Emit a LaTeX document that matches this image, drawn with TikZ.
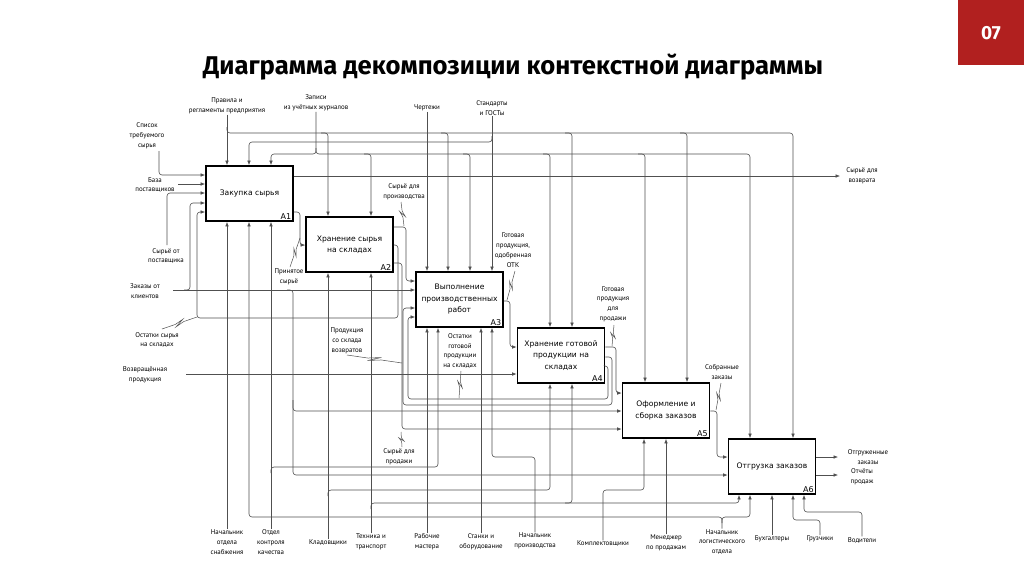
\documentclass[tikz,border=0pt]{standalone}
\usepackage{fontspec}
\setmainfont{PT Sans}
\newfontfamily\boxfnt{DejaVu Sans}
\newfontfamily\labfnt{PT Sans}
\newfontfamily\titlefnt{Fira Sans}
\usetikzlibrary{arrows.meta,calc}
\definecolor{brandred}{RGB}{177,32,31}
\definecolor{lncol}{RGB}{80,80,80}
\newcommand{\zzline}[2]{\draw[lncol,line width=0.5pt] (#1) -- ($(#1)!0.38!(#2)$) -- ($(#1)!0.62!(#2)!2.5pt!90:(#2)$) -- ($(#1)!0.38!(#2)!2.5pt!-90:(#2)$) -- ($(#1)!0.62!(#2)$) -- (#2);}
\tikzset{
  ln/.style={draw=lncol, line width=0.6pt, rounded corners=3pt},
  arr/.style={ln, -{Latex[length=4.5pt,width=3.6pt]}},
  fbox/.style={draw=black, line width=1.7pt, minimum width=87pt, minimum height=55pt, inner sep=1pt, align=center, fill=white, font=\boxfnt\fontsize{7.6}{11.5}\selectfont},
  lab/.style={font=\labfnt\fontsize{6.9}{9.8}\selectfont, align=center, inner sep=0.5pt, text=black},
  tag/.style={font=\boxfnt\fontsize{8}{9}\selectfont, inner sep=1.5pt, anchor=south east},
}
\begin{document}
\begin{tikzpicture}[x=1pt,y=-1pt]
\fill[white] (0,0) rectangle (1024,574);
\useasboundingbox (0,0) rectangle (1024,574);

% header
\node[fill=brandred, minimum width=66pt, minimum height=65pt, anchor=north east, inner sep=0] (badge) at (1024,0) {};
\node[text=white, font=\titlefnt\bfseries\fontsize{19}{20}\selectfont] (num) at (badge.center) {07};
\node[anchor=base west, inner sep=0] (title) at (203,74) {\resizebox{620pt}{!}{\titlefnt\bfseries\fontsize{21}{24}\selectfont Диаграмма декомпозиции контекстной диаграммы}};

% boxes
\node[fbox] (A1) at (249.5,193.5) {Закупка сырья};
\node[fbox] (A2) at (349.5,244.5) {Хранение сырья\\на складах};
\node[fbox] (A3) at (459.5,299.5) {Выполнение\\производственных\\работ};
\node[fbox] (A4) at (561,355.5) {Хранение готовой\\продукции на\\складах};
\node[fbox] (A5) at (666,410.5) {Оформление и\\сборка заказов};
\node[fbox] (A6) at (772,466.5) {Отгрузка заказов};
\foreach \b in {A1,A2,A3,A4,A5,A6}{
  \node[tag] (t\b) at ($(\b.south east)+(-1,-1)$) {\b};
}

% labels
\node[lab] (lPrav) at (227,106) {Правила и\\регламенты предприятия};
\node[lab] (lZap) at (316,103) {Записи\\из учётных журналов};
\node[lab] (lCher) at (427,108) {Чертежи};
\node[lab] (lStd) at (492,108) {Стандарты\\и ГОСТы};

\node[lab] (lSpis) at (147,136) {Список\\требуемого\\сырья};
\node[lab] (lBaza) at (155,185) {База\\поставщиков};
\node[lab] (lSyrPost) at (166,256) {Сырьё от\\поставщика};
\node[lab] (lZak) at (145,291) {Заказы от\\клиентов};
\node[lab] (lOst) at (157,340) {Остатки сырья\\на складах};
\node[lab] (lVozv) at (145,375) {Возвращённая\\продукция};

\node[lab] (lVozvrat) at (862,176) {Сырьё для\\возврата};
\node[lab] (lOtgr) at (868,457) {Отгруженные\\заказы};
\node[lab] (lOtch) at (862,477) {Отчёты\\продаж};

\node[lab] (lSPr) at (404,192) {Сырьё для\\производства};
\node[lab] (lPrin) at (289,277) {Принятое\\сырьё};
\node[lab] (lOTK) at (513,250) {Готовая\\продукция,\\одобренная\\ОТК};
\node[lab] (lOstG) at (460,351) {Остатки\\готовой\\продукции\\на складах};
\node[lab] (lProdV) at (347,341) {Продукция\\со склада\\возвратов};
\node[lab] (lGPP) at (613,304) {Готовая\\продукция\\для\\продажи};
\node[lab] (lSobr) at (722,372) {Собранные\\заказы};
\node[lab] (lSPd) at (399,457) {Сырьё для\\продажи};

\node[lab] (m1) at (227,542) {Начальник\\отдела\\снабжения};
\node[lab] (m2) at (271,542) {Отдел\\контроля\\качества};
\node[lab] (m3) at (328,543) {Кладовщики};
\node[lab] (m4) at (371,542) {Техника и\\транспорт};
\node[lab] (m5) at (427,542) {Рабочие\\мастера};
\node[lab] (m6) at (481,542) {Станки и\\оборудование};
\node[lab] (m7) at (535,541) {Начальник\\производства};
\node[lab] (m8) at (603,544) {Комплектовщики};
\node[lab] (m9) at (666,543) {Менеджер\\по продажам};
\node[lab] (m10) at (722,542) {Начальник\\логистического\\отдела};
\node[lab] (m11) at (772,539) {Бухгалтеры};
\node[lab] (m12) at (820,539) {Грузчики};
\node[lab] (m13) at (862,540) {Водители};

% ---- controls (top)
\draw[arr] (lPrav.south) -- (lPrav.south |- A1.north);
\draw[arr] (227,127) |- (793,133) -- (793,0 |- A6.north);
\draw[arr] (321,133) -| (328,0 |- A2.north);
\draw[arr] (441,133) -| (448,0 |- A3.north);
\draw[arr] (565,133) -| (572,0 |- A4.north);
\draw[arr] (680,133) -| (687,0 |- A5.north);

\draw[arr] (lZap.south) |- (271,154) -- (271,0 |- A1.north);
\draw[arr] (316,148) |- (750,154) -- (750,0 |- A6.north);
\draw[arr] (364,154) -| (371,0 |- A2.north);
\draw[arr] (463,154) -| (470,0 |- A3.north);
\draw[arr] (543,154) -| (550,0 |- A4.north);
\draw[arr] (638,154) -| (645,0 |- A5.north);

\draw[arr] (lStd.south) -- (lStd.south |- A3.north);
\draw[arr] (492,136) |- (249,142) -- (249,0 |- A1.north);
\draw[arr] (lCher.south) -- (lCher.south |- A3.north);

% ---- inputs (left)
\draw[arr] (159,151) |- (A1.west |- 0,175);
\draw[arr] (178,184) -- (A1.west |- 0,184);
\draw[arr] (167,245) |- (A1.west |- 0,193);
\draw[arr] (173,290) -- (A3.west |- 0,290);
\draw[arr] (184,290) -| (190,250) |- (A1.west |- 0,203);
\draw[arr] (287,290) -| (293,350) |- (A5.west |- 0,411);
\draw[arr] (293,400) |- (A6.west |- 0,475);
\draw[arr] (186,374) -- (A4.west |- 0,374);

% ---- flows between boxes
\draw[arr] (A1.east |- 0,176) -- (840,176);
\draw[arr] (A1.east |- 0,212) -| (300,245) -- (A2.west |- 0,245);
\draw[arr] (A2.east |- 0,227) -| (406,281) -- (A3.west |- 0,281);
\draw[arr] (A2.east |- 0,245) -| (398,318) -| (197,212) -- (A1.west |- 0,212);
\draw[arr] (A2.east |- 0,263) -| (402,429) -- (A5.west |- 0,429);
\draw[arr] (A3.east |- 0,301) -| (510,347) -- (A4.west |- 0,347);
\draw[arr] (A4.east |- 0,347) -| (616,393) -- (A5.west |- 0,393);
\draw[arr] (A4.east |- 0,357) -| (612,405) -| (403,308) -- (A3.west |- 0,308);
\draw[arr] (A4.east |- 0,366) -| (608,399) -| (408,317) -- (A3.west |- 0,317);
\draw[arr] (A5.east |- 0,411) -| (717,457) -- (A6.west |- 0,457);
\draw[arr] (A6.east |- 0,457) -- (838,457);
\draw[arr] (A6.east |- 0,475) -- (838,475);

% ---- mechanisms (bottom)
\draw[arr] (m1.north) -- (m1.north |- A1.south);
\draw[arr] (m2.north) -- (m2.north |- A1.south);
\draw[arr] (271,473) |- (438,467) -- (438,0 |- A3.south);
\draw[arr] (m3.north) -- (m3.north |- A2.south);
\draw[arr] (328,496) |- (550,490) -- (550,0 |- A4.south);
\draw[arr] (m4.north) -- (m4.north |- A2.south);
\draw[arr] (371,509) |- (739,503) -- (739,0 |- A6.south);
\draw[arr] (565,503) -| (572,0 |- A4.south);
\draw[arr] (m5.north) -- (m5.north |- A3.south);
\draw[arr] (m6.north) -- (m6.north |- A3.south);
\draw[arr] (m7.north) |- (492,457) -- (492,0 |- A3.south);
\draw[arr] (m8.north) |- (644,490) -- (644,0 |- A5.south);
\draw[arr] (m9.north) -- (m9.north |- A5.south);
\draw[arr] (m10.north) |- (750,517) -- (750,0 |- A6.south);
\draw[arr] (722,523) |- (249,517) -- (249,0 |- A1.south);
\draw[arr] (m11.north) -- (m11.north |- A6.south);
\draw[arr] (m12.north) |- (793,520) -- (793,0 |- A6.south);
\draw[arr] (m13.north) |- (804,512) -- (804,0 |- A6.south);

% ---- squiggles
\zzline{401,202}{404,226}
\zzline{290,267}{300,238}
\zzline{515,271}{507,300}
\zzline{461,371}{459,398}
\zzline{347,355}{402,363}
\zzline{614,325}{612,346}
\zzline{721,383}{716,410}
\zzline{402,447}{401,432}
\zzline{162,329}{197,317}
\end{tikzpicture}
\end{document}
